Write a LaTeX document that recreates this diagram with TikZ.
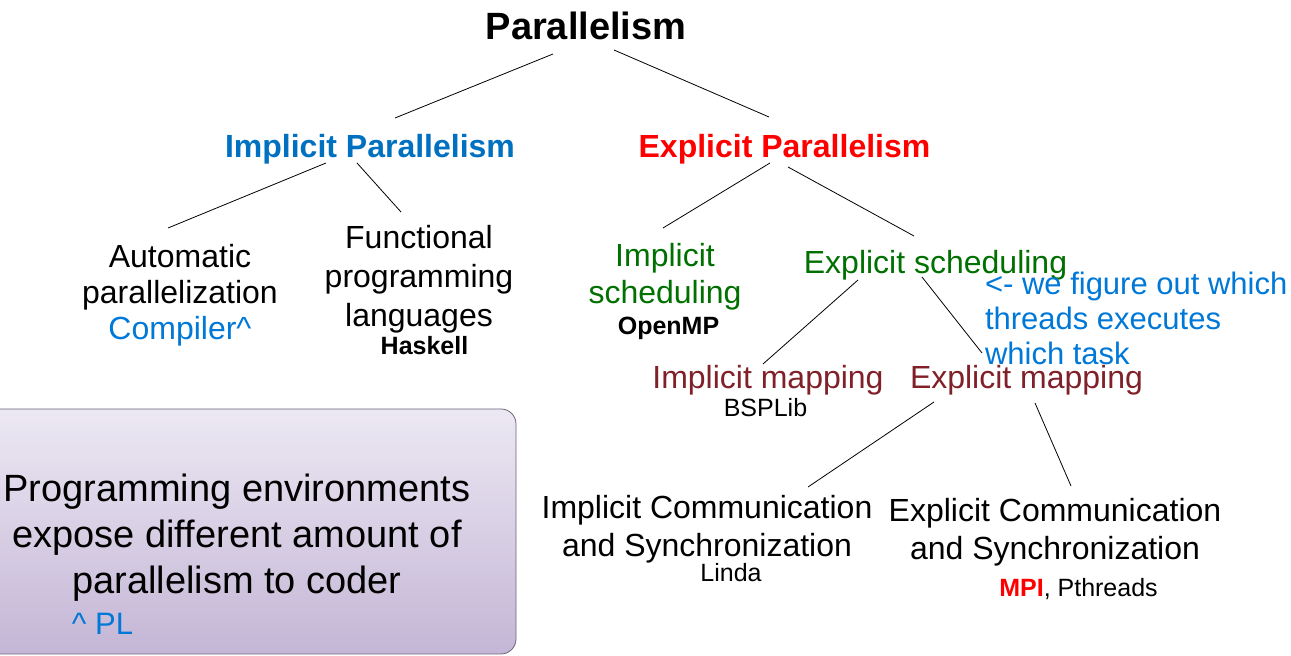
\documentclass[tikz,border=0pt]{standalone}
\usepackage{fontspec}
\setmainfont{Liberation Sans}
\definecolor{hblue}{RGB}{0,112,192}
\definecolor{nblue}{RGB}{0,120,215}
\definecolor{dgreen}{RGB}{0,112,0}
\definecolor{dred}{RGB}{128,32,40}
\definecolor{boxtop}{RGB}{236,232,243}
\definecolor{boxbot}{RGB}{196,182,214}
\definecolor{boxline}{RGB}{110,100,120}
\tikzset{
  txt/.style={inner sep=0pt, outer sep=0pt, anchor=base, align=center},
  big/.style={txt, font=\fontsize{32}{38}\selectfont},
  small/.style={txt, font=\fontsize{25}{30}\selectfont},
  conn/.style={line width=0.8pt, black},
}
\begin{document}
\begin{tikzpicture}[x=1pt,y=1pt]
\useasboundingbox (0,0) rectangle (1291,656);
% box
\shade[rounded corners=15pt, top color=boxtop, bottom color=boxbot, draw=boxline, line width=0.8pt]
  (-20,2) rectangle (516,247);
\begin{scope}[yshift=-1.5pt]
\node[txt, font=\fontsize{38}{46}\selectfont] (env) at (237,64)
  {Programming environments\\expose different amount of\\parallelism to coder};
\node[txt, font=\fontsize{31}{36}\selectfont, text=nblue] (pl) at (102.5,23) {\^{} PL};
% tree
\node[txt, font=\bfseries\fontsize{38}{46}\selectfont] (par) at (586,618) {Parallelism};
\node[big, font=\bfseries\fontsize{32}{38}\selectfont, text=hblue] (ipar) at (370,500) {Implicit Parallelism};
\node[big, font=\bfseries\fontsize{32}{38}\selectfont, text=red] (epar) at (784.5,500) {Explicit Parallelism};
\node[big, font=\fontsize{32}{36}\selectfont] (auto) at (180,318) {Automatic\\parallelization\\\textcolor{nblue}{Compiler\^{}}};
\node[big, font=\fontsize{32}{39}\selectfont] (func) at (419,331) {Functional\\programming\\languages};
\node[small, font=\bfseries\fontsize{25}{30}\selectfont] (hask) at (424.5,303) {Haskell};
\node[big, font=\fontsize{32}{37}\selectfont, text=dgreen] (isched) at (665,354) {Implicit\\scheduling};
\node[small, font=\bfseries\fontsize{25}{30}\selectfont] (omp) at (668.5,323) {OpenMP};
\node[big, text=dgreen] (esched) at (935.5,384) {Explicit scheduling};
\node[txt, anchor=base west, align=left, font=\fontsize{31}{35}\selectfont, text=nblue] (note) at (985,293)
  {<- we figure out which\\threads executes\\which task};
\node[big, text=dred] (imap) at (768,269) {Implicit mapping};
\node[small] (bsp) at (765.5,241) {BSPLib};
\node[big, text=dred] (emap) at (1026.5,269) {Explicit mapping};
\node[big] (icomm) at (707,101) {Implicit Communication\\and Synchronization};
\node[small] (linda) at (731,76) {Linda};
\node[big] (ecomm) at (1055,98) {Explicit Communication\\and Synchronization};
\node[small] (mpi) at (1078.5,61) {\textcolor{red}{\bfseries MPI}, Pthreads};
\end{scope}
% connectors
\draw[conn] ([shift={(-33pt,-14.5pt)}]par.base) -- ([shift={(25pt,39.5pt)}]ipar.base);
\draw[conn] ([shift={(28pt,-10.5pt)}]par.base) -- ([shift={(-15.5pt,40.5pt)}]epar.base);
\draw[conn] ([shift={(-44pt,-5.5pt)}]ipar.base) -- ([shift={(-12pt,111.5pt)}]auto.base);
\draw[conn] ([shift={(-13pt,-5.5pt)}]ipar.base) -- ([shift={(-18pt,114.5pt)}]func.base);
\draw[conn] ([shift={(-14.5pt,-5.5pt)}]epar.base) -- ([shift={(-2pt,75.5pt)}]isched.base);
\draw[conn] ([shift={(3.5pt,-9.5pt)}]epar.base) -- ([shift={(-21.5pt,37.5pt)}]esched.base);
\draw[conn] ([shift={(-77.5pt,-6.5pt)}]esched.base) -- ([shift={(-5pt,24.5pt)}]imap.base);
\draw[conn] ([shift={(-13.5pt,-3.5pt)}]esched.base) -- ([shift={(-44.5pt,35.5pt)}]emap.base);
\draw[conn] ([shift={(-92.5pt,-13.5pt)}]emap.base) -- ([shift={(101pt,69.5pt)}]icomm.base);
\draw[conn] ([shift={(8.5pt,-14.5pt)}]emap.base) -- ([shift={(16pt,73.5pt)}]ecomm.base);
\end{tikzpicture}
\end{document}
